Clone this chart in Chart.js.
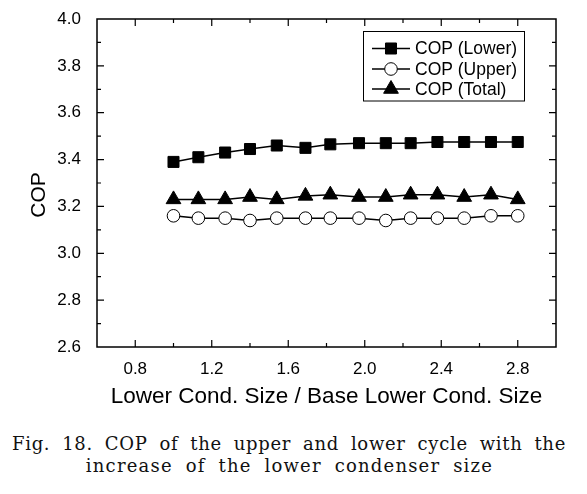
<!DOCTYPE html>
<html>
<head>
<meta charset="utf-8">
<script src="https://cdn.jsdelivr.net/npm/chart.js@4.4.1/dist/chart.umd.min.js"></script>
<style>
  body { margin: 0; background: #fff; }
  #wrap { position: relative; width: 587px; height: 494px; }
  #chart { position: absolute; left: 0; top: 0; }
  .cap { position: absolute; font-family: "DejaVu Serif", "Liberation Serif", serif; font-size: 18px; line-height: 22px; color: #111; white-space: nowrap; letter-spacing: 1.2px; word-spacing: 6px; }
  #cap1 { left: 12px; top: 433px; width: 554px; text-align: justify; text-align-last: justify; letter-spacing: 0.7px; word-spacing: 0; }
  #cap2 { left: 0; top: 455px; width: 579px; text-align: center; }
</style>
</head>
<body>
<div id="wrap">
  <canvas id="chart" width="587" height="420"></canvas>
  <div class="cap" id="cap1">Fig. 18. COP of the upper and lower cycle with the</div>
  <div class="cap" id="cap2">increase of the lower condenser size</div>
</div>
<script>
// data
const xValues = [1.0, 1.13, 1.27, 1.40, 1.54, 1.69, 1.82, 1.97, 2.11, 2.24, 2.38, 2.52, 2.66, 2.80];
const copLower = [3.39, 3.41, 3.43, 3.445, 3.46, 3.45, 3.465, 3.47, 3.47, 3.47, 3.475, 3.475, 3.475, 3.475];
const copUpper = [3.16, 3.15, 3.15, 3.14, 3.15, 3.15, 3.15, 3.15, 3.14, 3.15, 3.15, 3.15, 3.16, 3.16];
const copTotal = [3.23, 3.23, 3.23, 3.24, 3.23, 3.245, 3.25, 3.24, 3.24, 3.25, 3.25, 3.24, 3.25, 3.23];
const seriesNames = ['COP (Lower)', 'COP (Upper)', 'COP (Total)'];
const xTickLabels = ['0.8', '1.2', '1.6', '2.0', '2.4', '2.8'];
const yTickLabels = ['2.6', '2.8', '3.0', '3.2', '3.4', '3.6', '3.8', '4.0'];

function pts(ys) {
  return xValues.map(function(x, i) { return { x: x, y: ys[i] }; });
}

// frame, inward ticks, y title and legend
const decor = {
  id: 'decor',
  afterDraw: function(chart) {
    const ctx = chart.ctx;
    const a = chart.chartArea;
    const xs = chart.scales.x, ys = chart.scales.y;
    ctx.save();
    ctx.strokeStyle = '#000';
    ctx.lineWidth = 1.5;
    ctx.strokeRect(a.left, a.top, a.right - a.left, a.bottom - a.top);

    ctx.lineWidth = 1.2;
    ctx.beginPath();
    xs.ticks.forEach(function(t) {
      const px = xs.getPixelForValue(t.value);
      if (px <= a.left + 1 || px >= a.right - 1) return;
      const len = xTickLabels.includes(t.value.toFixed(1)) ? 7 : 4;
      ctx.moveTo(px, a.bottom); ctx.lineTo(px, a.bottom - len);
      ctx.moveTo(px, a.top); ctx.lineTo(px, a.top + len);
    });
    ys.ticks.forEach(function(t, i) {
      const py = ys.getPixelForValue(t.value);
      if (py > a.top + 1 && py < a.bottom - 1) {
        ctx.moveTo(a.left, py); ctx.lineTo(a.left + 7, py);
        ctx.moveTo(a.right, py); ctx.lineTo(a.right - 7, py);
      }
      if (i < ys.ticks.length - 1) {
        const my = ys.getPixelForValue((t.value + ys.ticks[i + 1].value) / 2);
        ctx.moveTo(a.left, my); ctx.lineTo(a.left + 4, my);
        ctx.moveTo(a.right, my); ctx.lineTo(a.right - 4, my);
      }
    });
    ctx.stroke();

    // y axis title
    ctx.fillStyle = '#000';
    ctx.font = '21px Arial, "Liberation Sans", sans-serif';
    ctx.textAlign = 'center';
    ctx.textBaseline = 'middle';
    ctx.translate(39, 195);
    ctx.rotate(-Math.PI / 2);
    ctx.fillText('COP', 0, 0);
    ctx.setTransform(1, 0, 0, 1, 0, 0);

    // legend
    ctx.lineWidth = 1;
    ctx.strokeRect(363.5, 31.5, 161, 69.5);
    const rows = [48.5, 69, 89];
    chart.data.datasets.forEach(function(ds, i) {
      const y = rows[i];
      ctx.lineWidth = 1.5;
      ctx.strokeStyle = '#000';
      ctx.beginPath();
      ctx.moveTo(372, y); ctx.lineTo(410, y);
      ctx.stroke();
      ctx.fillStyle = ds.pointBackgroundColor;
      ctx.lineWidth = 1;
      Chart.helpers.drawPoint(ctx, { pointStyle: ds.pointStyle, radius: ds.pointRadius, borderWidth: 1 }, 391, y);
      ctx.fillStyle = '#000';
      ctx.font = '17.5px Arial, "Liberation Sans", sans-serif';
      ctx.textAlign = 'left';
      ctx.textBaseline = 'middle';
      ctx.fillText(ds.label, 415, y + 1);
    });
    ctx.restore();
  }
};

const tickFont = { family: 'Arial, "Liberation Sans", sans-serif', size: 17 };

new Chart(document.getElementById('chart'), {
  type: 'line',
  data: {
    datasets: [
      { label: seriesNames[0], data: pts(copLower), pointStyle: 'rect', pointRadius: 7.8, pointBackgroundColor: '#000' },
      { label: seriesNames[1], data: pts(copUpper), pointStyle: 'circle', pointRadius: 6.3, pointBackgroundColor: '#fff' },
      { label: seriesNames[2], data: pts(copTotal), pointStyle: 'triangle', pointRadius: 8.5, pointBackgroundColor: '#000' }
    ].map(function(d) {
      return Object.assign({ borderColor: '#000', borderWidth: 1.5, pointBorderColor: '#000', pointBorderWidth: 1, tension: 0 }, d);
    })
  },
  options: {
    responsive: false,
    animation: false,
    devicePixelRatio: 1,
    layout: { padding: { left: 0, right: 31, top: 19, bottom: 0 } },
    plugins: { legend: { display: false }, tooltip: { enabled: false } },
    scales: {
      x: {
        type: 'linear', min: 0.6, max: 3.0,
        grid: { display: false }, border: { display: false },
        ticks: {
          stepSize: 0.2, color: '#000', font: tickFont, padding: 4, maxRotation: 0, autoSkip: false,
          callback: function(v) { const s = v.toFixed(1); return xTickLabels.includes(s) ? s : ''; }
        },
        title: {
          display: true, text: 'Lower Cond. Size / Base Lower Cond. Size', color: '#000',
          font: { family: 'Arial, "Liberation Sans", sans-serif', size: 22.5 }, padding: { top: 0, bottom: 10 }
        },
        afterFit: function(s) { s.height = 73; }
      },
      y: {
        type: 'linear', min: 2.6, max: 4.0,
        grid: { display: false }, border: { display: false },
        ticks: {
          stepSize: 0.2, color: '#000', font: tickFont, padding: 8,
          callback: function(v) { const s = v.toFixed(1); return yTickLabels.includes(s) ? s : ''; }
        },
        afterFit: function(s) { s.width = 97; }
      }
    }
  },
  plugins: [decor]
});
</script>
</body>
</html>
